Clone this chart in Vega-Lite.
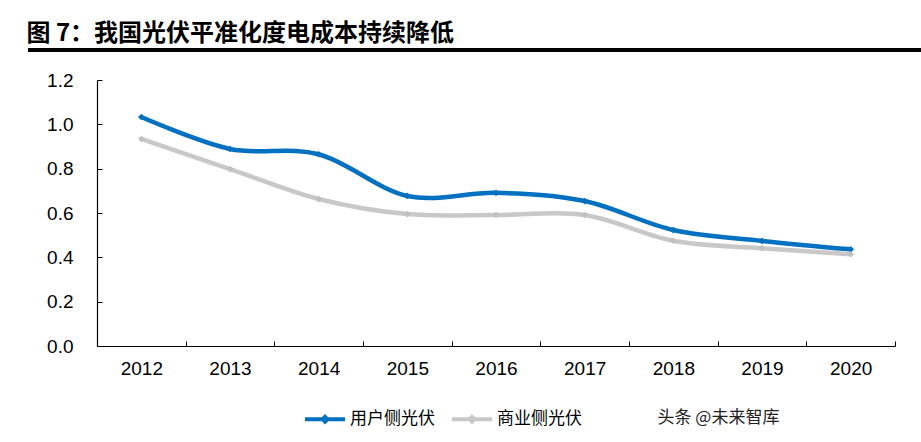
{
  "$schema": "https://vega.github.io/schema/vega-lite/v6.json",
  "width": 893,
  "height": 296,
  "autosize": {"type": "none"},
  "padding": {"left": 28, "top": 50, "right": 0, "bottom": 96},
  "background": "white",
  "title": {
    "text": "图 7：我国光伏平准化度电成本持续降低",
    "anchor": "start",
    "font": "Noto Sans CJK SC",
    "fontSize": 24,
    "fontWeight": "bold",
    "color": "#000000",
    "offset": 3
  },
  "config": {
    "view": {"stroke": null},
    "axis": {"grid": false}
  },
  "data": {
    "values": [
      {"year": "2012", "series": "用户侧光伏", "value": 1.033},
      {"year": "2013", "series": "用户侧光伏", "value": 0.889},
      {"year": "2014", "series": "用户侧光伏", "value": 0.865},
      {"year": "2015", "series": "用户侧光伏", "value": 0.677},
      {"year": "2016", "series": "用户侧光伏", "value": 0.691},
      {"year": "2017", "series": "用户侧光伏", "value": 0.654},
      {"year": "2018", "series": "用户侧光伏", "value": 0.523},
      {"year": "2019", "series": "用户侧光伏", "value": 0.474},
      {"year": "2020", "series": "用户侧光伏", "value": 0.436},
      {"year": "2012", "series": "商业侧光伏", "value": 0.934},
      {"year": "2013", "series": "商业侧光伏", "value": 0.798},
      {"year": "2014", "series": "商业侧光伏", "value": 0.663},
      {"year": "2015", "series": "商业侧光伏", "value": 0.595},
      {"year": "2016", "series": "商业侧光伏", "value": 0.591},
      {"year": "2017", "series": "商业侧光伏", "value": 0.591},
      {"year": "2018", "series": "商业侧光伏", "value": 0.475},
      {"year": "2019", "series": "商业侧光伏", "value": 0.441},
      {"year": "2020", "series": "商业侧光伏", "value": 0.414}
    ]
  },
  "encoding": {
    "x": {
      "field": "year",
      "type": "ordinal",
      "scale": {"type": "band", "range": [69, 867], "paddingInner": 0, "paddingOuter": 0},
      "axis": {
        "title": "头条 @未来智库",
        "titleX": 629,
        "titleY": 71,
        "titleAlign": "left",
        "titleBaseline": "middle",
        "titleFont": "Noto Sans CJK SC",
        "titleFontSize": 17,
        "titleFontWeight": "normal",
        "titleColor": "#222222",
        "labelAngle": 0,
        "labelFont": "Liberation Sans",
        "labelFontSize": 19,
        "labelColor": "#000000",
        "labelPadding": 18,
        "tickBand": "extent",
        "tickSize": -5,
        "tickColor": "#000000",
        "domainColor": "#000000",
        "domainWidth": 1.2
      }
    },
    "y": {
      "field": "value",
      "type": "quantitative",
      "scale": {"domain": [0, 1.2], "range": [296, 30], "nice": false, "zero": true},
      "axis": {
        "title": null,
        "offset": -69,
        "values": [0, 0.2, 0.4, 0.6, 0.8, 1.0, 1.2],
        "format": ".1f",
        "labelFont": "Liberation Sans",
        "labelFontSize": 19,
        "labelColor": "#000000",
        "labelPadding": 29,
        "tickSize": -5,
        "tickColor": "#000000",
        "domainColor": "#000000",
        "domainWidth": 1.2
      }
    }
  },
  "layer": [
    {
      "mark": {"type": "line", "strokeWidth": 4.5, "interpolate": "cardinal"},
      "encoding": {
        "color": {
          "field": "series",
          "type": "nominal",
          "sort": ["用户侧光伏", "商业侧光伏"],
          "scale": {"domain": ["用户侧光伏", "商业侧光伏"], "range": ["#0070C0", "#C8C8C8"]},
          "legend": {
            "title": null,
            "orient": "none",
            "direction": "horizontal",
            "legendX": 275,
            "legendY": 347,
            "symbolType": "M-1,0L1,0M0,-0.12L0.12,0L0,0.12L-0.12,0Z",
            "symbolSize": 1600,
            "symbolStrokeWidth": 4,
            "labelFont": "Noto Sans CJK SC",
            "labelFontSize": 17,
            "labelColor": "#000000",
            "labelOffset": 3,
            "columnPadding": 9
          }
        }
      }
    },
    {
      "mark": {"type": "point", "shape": "diamond", "filled": true, "size": 45, "opacity": 1},
      "encoding": {
        "fill": {
          "field": "series",
          "type": "nominal",
          "scale": {"domain": ["用户侧光伏", "商业侧光伏"], "range": ["#0070C0", "#C0C0C0"]},
          "legend": null
        }
      }
    },
    {
      "mark": {"type": "rule", "strokeWidth": 3, "color": "#000000"},
      "encoding": {
        "x": null,
        "y": {"datum": 1.3353}
      }
    }
  ]
}
